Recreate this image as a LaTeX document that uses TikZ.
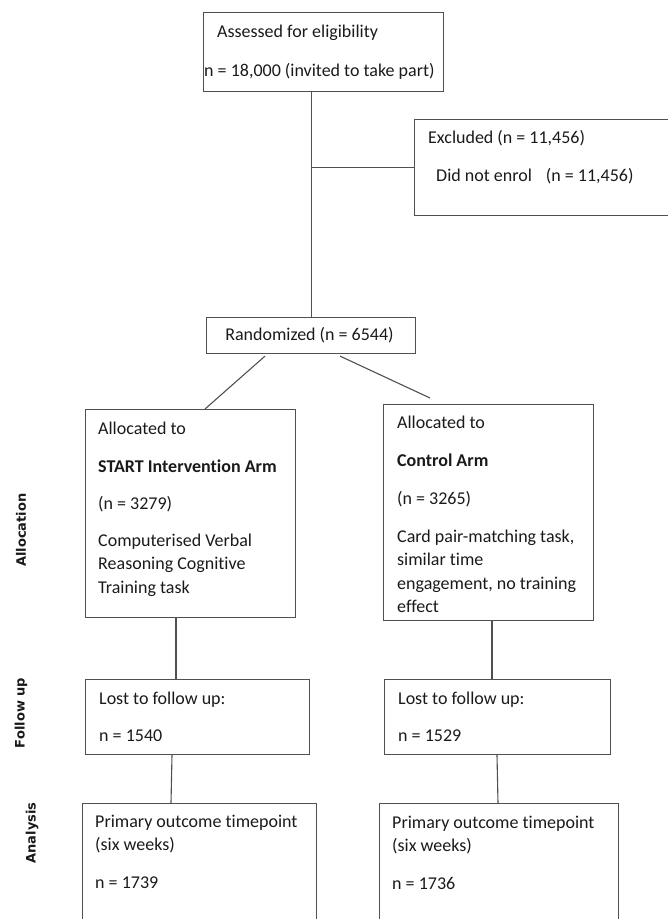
\documentclass[tikz,border=0pt]{standalone}
\usepackage{fontspec}
\setmainfont{Carlito}[Ligatures=NoCommon]
\newfontfamily\labfont{DejaVu Sans}
\usetikzlibrary{calc}
\definecolor{linec}{HTML}{505050}
\definecolor{textc}{HTML}{1A1A1A}
\begin{document}
\begin{tikzpicture}[x=1pt,y=-1pt,
  box/.style={draw=linec, line width=1.1pt, anchor=north west, inner sep=0pt},
  txt/.style={anchor=base west, inner sep=0pt, text=textc, font=\fontsize{18}{23.5}\selectfont},
  btxt/.style={txt, font=\fontsize{18}{23.5}\selectfont\bfseries},
  side/.style={rotate=90, inner sep=0pt, text=textc, font=\labfont\bfseries\fontsize{13}{15}\selectfont},
  conn/.style={draw=linec, line width=1.1pt}]
\useasboundingbox (0,0) rectangle (668,919);

% boxes
\node[box, minimum width=240pt, minimum height=79pt] (top) at (203,12) {};
\node[box, minimum width=270pt, minimum height=96pt] (excl) at (414,119) {};
\node[box, minimum width=209pt, minimum height=36pt] (rand) at (206,317) {};
\node[box, minimum width=210pt, minimum height=208pt] (allocL) at (85,409) {};
\node[box, minimum width=210pt, minimum height=216pt] (allocR) at (383,404) {};
\node[box, minimum width=224pt, minimum height=75pt] (lostL) at (85,679) {};
\node[box, minimum width=226pt, minimum height=75pt] (lostR) at (384,679) {};
\node[box, minimum width=234pt, minimum height=140pt] (anaL) at (82,803) {};
\node[box, minimum width=239pt, minimum height=140pt] (anaR) at (379,803) {};

% texts
\node[txt] (t1) at (217,37) {Assessed for eligibility};
\node[txt] (t2) at (204,76) {n = 18,000 (invited to take part)};
\node[txt] (e1) at (428,143) {Excluded (n = 11,456)};
\node[txt] (e2) at (436,181) {Did not enrol\hspace{14pt}(n = 11,456)};
\node[anchor=base, inner sep=0pt, text=textc, font=\fontsize{18}{23.5}\selectfont] (r1) at (309.5,340) {Randomized (n = 6544)};

\node[txt] (l1) at (98,434) {Allocated to};
\node[btxt] (l2) at (98,472) {START Intervention Arm};
\node[txt] (l3) at (98,509) {(n = 3279)};
\node[txt] (l4) at (98,546) {Computerised Verbal};
\node[txt] (l5) at (98,569.5) {Reasoning Cognitive};
\node[txt] (l6) at (98,593) {Training task};

\node[txt] (c1) at (397,428) {Allocated to};
\node[btxt] (c2) at (397,466) {Control Arm};
\node[txt] (c3) at (397,504) {(n = 3265)};
\node[txt] (c4) at (397,542) {Card pair-matching task,};
\node[txt] (c5) at (397,565.5) {similar time};
\node[txt] (c6) at (397,589) {engagement, no training};
\node[txt] (c7) at (397,612.5) {effect};

\node[txt] (fl1) at (99,704) {Lost to follow up:};
\node[txt] (fl2) at (99,741) {n = 1540};
\node[txt] (fr1) at (398,704) {Lost to follow up:};
\node[txt] (fr2) at (398,741) {n = 1529};

\node[txt] (al1) at (95,827) {Primary outcome timepoint};
\node[txt] (al2) at (95,850.5) {(six weeks)};
\node[txt] (al3) at (95,888) {n = 1739};
\node[txt] (ar1) at (392,828) {Primary outcome timepoint};
\node[txt] (ar2) at (392,851.5) {(six weeks)};
\node[txt] (ar3) at (392,889) {n = 1736};

% side labels
\node[side] (s1) at (21,530) {Allocation};
\node[side] (s2) at (21,713) {Follow up};
\node[side] (s3) at (32,833) {Analysis};

% connectors
\draw[conn] (top.south -| rand.north) -- (rand.north);
\draw[conn] (excl.west -| rand.north) -- (excl.west);
\coordinate (dl1) at ($(rand.south west)+(59,2)$);
\coordinate (dl2) at ($(allocL.north west)+(120,0)$);
\draw[conn] (dl1) -- (dl2);
\coordinate (dr1) at ($(rand.south west)+(134,2)$);
\coordinate (dr2) at ($(allocR.north west)+(47,-6)$);
\draw[conn] (dr1) -- (dr2);
\draw[conn] ($(allocL.south west)+(91,0)$) -- ($(lostL.north west)+(91,0)$);
\draw[conn] ($(allocR.south west)+(109,0)$) -- ($(lostR.north west)+(108,0)$);
\draw[conn] ($(lostL.south west)+(87,0)$) -- ($(anaL.north west)+(89,0)$);
\draw[conn] ($(lostR.south west)+(113,0)$) -- ($(anaR.north west)+(119,0)$);
\end{tikzpicture}
\end{document}
